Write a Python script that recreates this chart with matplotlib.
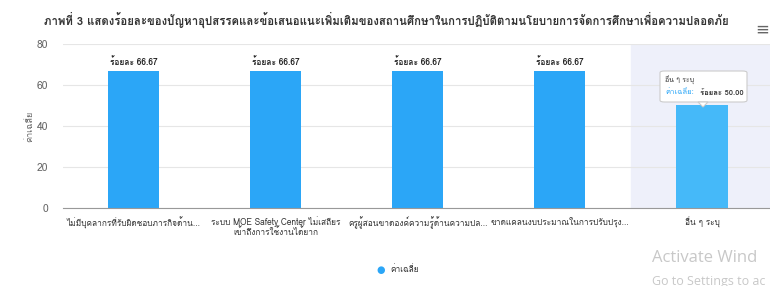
import matplotlib
matplotlib.use("Agg")
import matplotlib.pyplot as plt
from matplotlib import font_manager
from matplotlib.ft2font import FT2Font
from matplotlib.patches import FancyBboxPatch, Polygon

# find installed fonts that have Thai glyphs, prefer proportional ones
thai_fonts = []
for path in sorted(font_manager.findSystemFonts()):
    try:
        if 0x0E01 in FT2Font(path).get_charmap():
            thai_fonts.append(font_manager.FontProperties(fname=path).get_name())
    except Exception:
        pass
mono_words = ("Mono", "Typo", "Typist", "Typewriter")
proportional = [f for f in thai_fonts if not any(w in f for w in mono_words)]
thai_font = (proportional or thai_fonts or [None])[0]
families = [thai_font, "DejaVu Sans"] if thai_font else ["DejaVu Sans"]
plt.rcParams["font.family"] = families

# data
categories = [
    "ไม่มีบุคลากรที่รับผิดชอบภารกิจด้าน...",
    "ระบบ MOE Safety Center ไม่เสถียร\nเข้าถึงการใช้งานได้ยาก",
    "ครูผู้สอนขาดองค์ความรู้ด้านความปล...",
    "ขาดแคลนงบประมาณในการปรับปรุง...",
    "อื่น ๆ ระบุ",
]
values = [66.67, 66.67, 66.67, 66.67, 50.00]
yticks = [0, 20, 40, 60, 80]
title = "ภาพที่ 3 แสดงร้อยละของปัญหาอุปสรรคและข้อเสนอแนะเพิ่มเติมของสถานศึกษาในการปฏิบัติตามนโยบายการจัดการศึกษาเพื่อความปลอดภัย"
series_name = "ค่าเฉลี่ย"

W, H = 770, 286
fig = plt.figure(figsize=(W / 100, H / 100), dpi=100)
ax = fig.add_axes([62.5 / W, (H - 208) / H, 710.5 / W, 164 / H])

x = list(range(len(categories)))
colors = ["#2ba6f7"] * 4 + ["#45b9f9"]
# hover band on the last category
ax.axvspan(3.5, 4.5, color="#eef0fa", zorder=0)
ax.bar(x, values, width=0.36, color=colors, zorder=2)

for xi, v in zip(x[:4], values[:4]):
    ax.text(xi, v + 2.2, f"ร้อยละ {v:.2f}", ha="center", va="bottom",
            fontsize=6, fontweight="bold", color="#222222")

ax.set_xlim(-0.5, 4.5)
ax.set_ylim(0, 80)
ax.set_yticks(yticks)
ax.tick_params(axis="y", length=0, labelsize=7.5, labelcolor="#666666", pad=10)
ax.tick_params(axis="x", length=0, labelsize=6, labelcolor="#333333", pad=6)
ax.set_xticks(x)
ax.set_xticklabels(categories, linespacing=1.0)
ax.grid(axis="y", color="#e6e6e6", linewidth=0.8, zorder=1)
ax.set_axisbelow(True)
for s in ["top", "right", "left"]:
    ax.spines[s].set_visible(False)
ax.spines["bottom"].set_color("#999999")
ax.set_ylabel(series_name, fontsize=6.5, color="#666666", labelpad=2)

fig.text(386 / W, 1 - 20 / H, title, ha="center", va="center",
         fontsize=8.2, fontweight="bold", color="#333333")
fig.text(762 / W, 1 - 31 / H, "≡", ha="center", va="center", fontsize=12, color="#666666")

# tooltip
tip = FancyBboxPatch((660 / W, 1 - 102 / H), 87 / W, 31 / H,
                     boxstyle="round,pad=0,rounding_size=0.006",
                     transform=fig.transFigure, facecolor="white",
                     edgecolor="#cccccc", linewidth=0.8, zorder=5)
fig.patches.append(tip)
fig.patches.append(Polygon([(698 / W, 1 - 102 / H), (708 / W, 1 - 102 / H), (703 / W, 1 - 107 / H)],
                           closed=True, transform=fig.transFigure, facecolor="white",
                           edgecolor="#cccccc", linewidth=0.8, zorder=5))
fig.text(665 / W, 1 - 80 / H, categories[4], fontsize=5, color="#333333", va="center", zorder=6)
fig.text(665 / W, 1 - 93 / H, series_name + ":", fontsize=5.5, color="#2ba6f7", va="center", zorder=6)
fig.text(744 / W, 1 - 93 / H, f"ร้อยละ {values[4]:.2f}", fontsize=5.5, fontweight="bold",
         color="#333333", va="center", ha="right", zorder=6)

# legend
fig.text(381 / W, 1 - 270 / H, "●", ha="center", va="center", fontsize=7, color="#2ba6f7")
fig.text(390 / W, 1 - 270 / H, series_name, ha="left", va="center", fontsize=6, color="#333333")

# screenshot watermark
fig.text(652 / W, 1 - 258 / H, "Activate Wind", fontsize=12, color="#c8c8c8", va="center",
         family="Open Sans")
fig.text(652 / W, 1 - 281 / H, "Go to Settings to ac", fontsize=9, color="#c8c8c8", va="center",
         family="Open Sans")

fig.savefig("out.png", dpi=100)
